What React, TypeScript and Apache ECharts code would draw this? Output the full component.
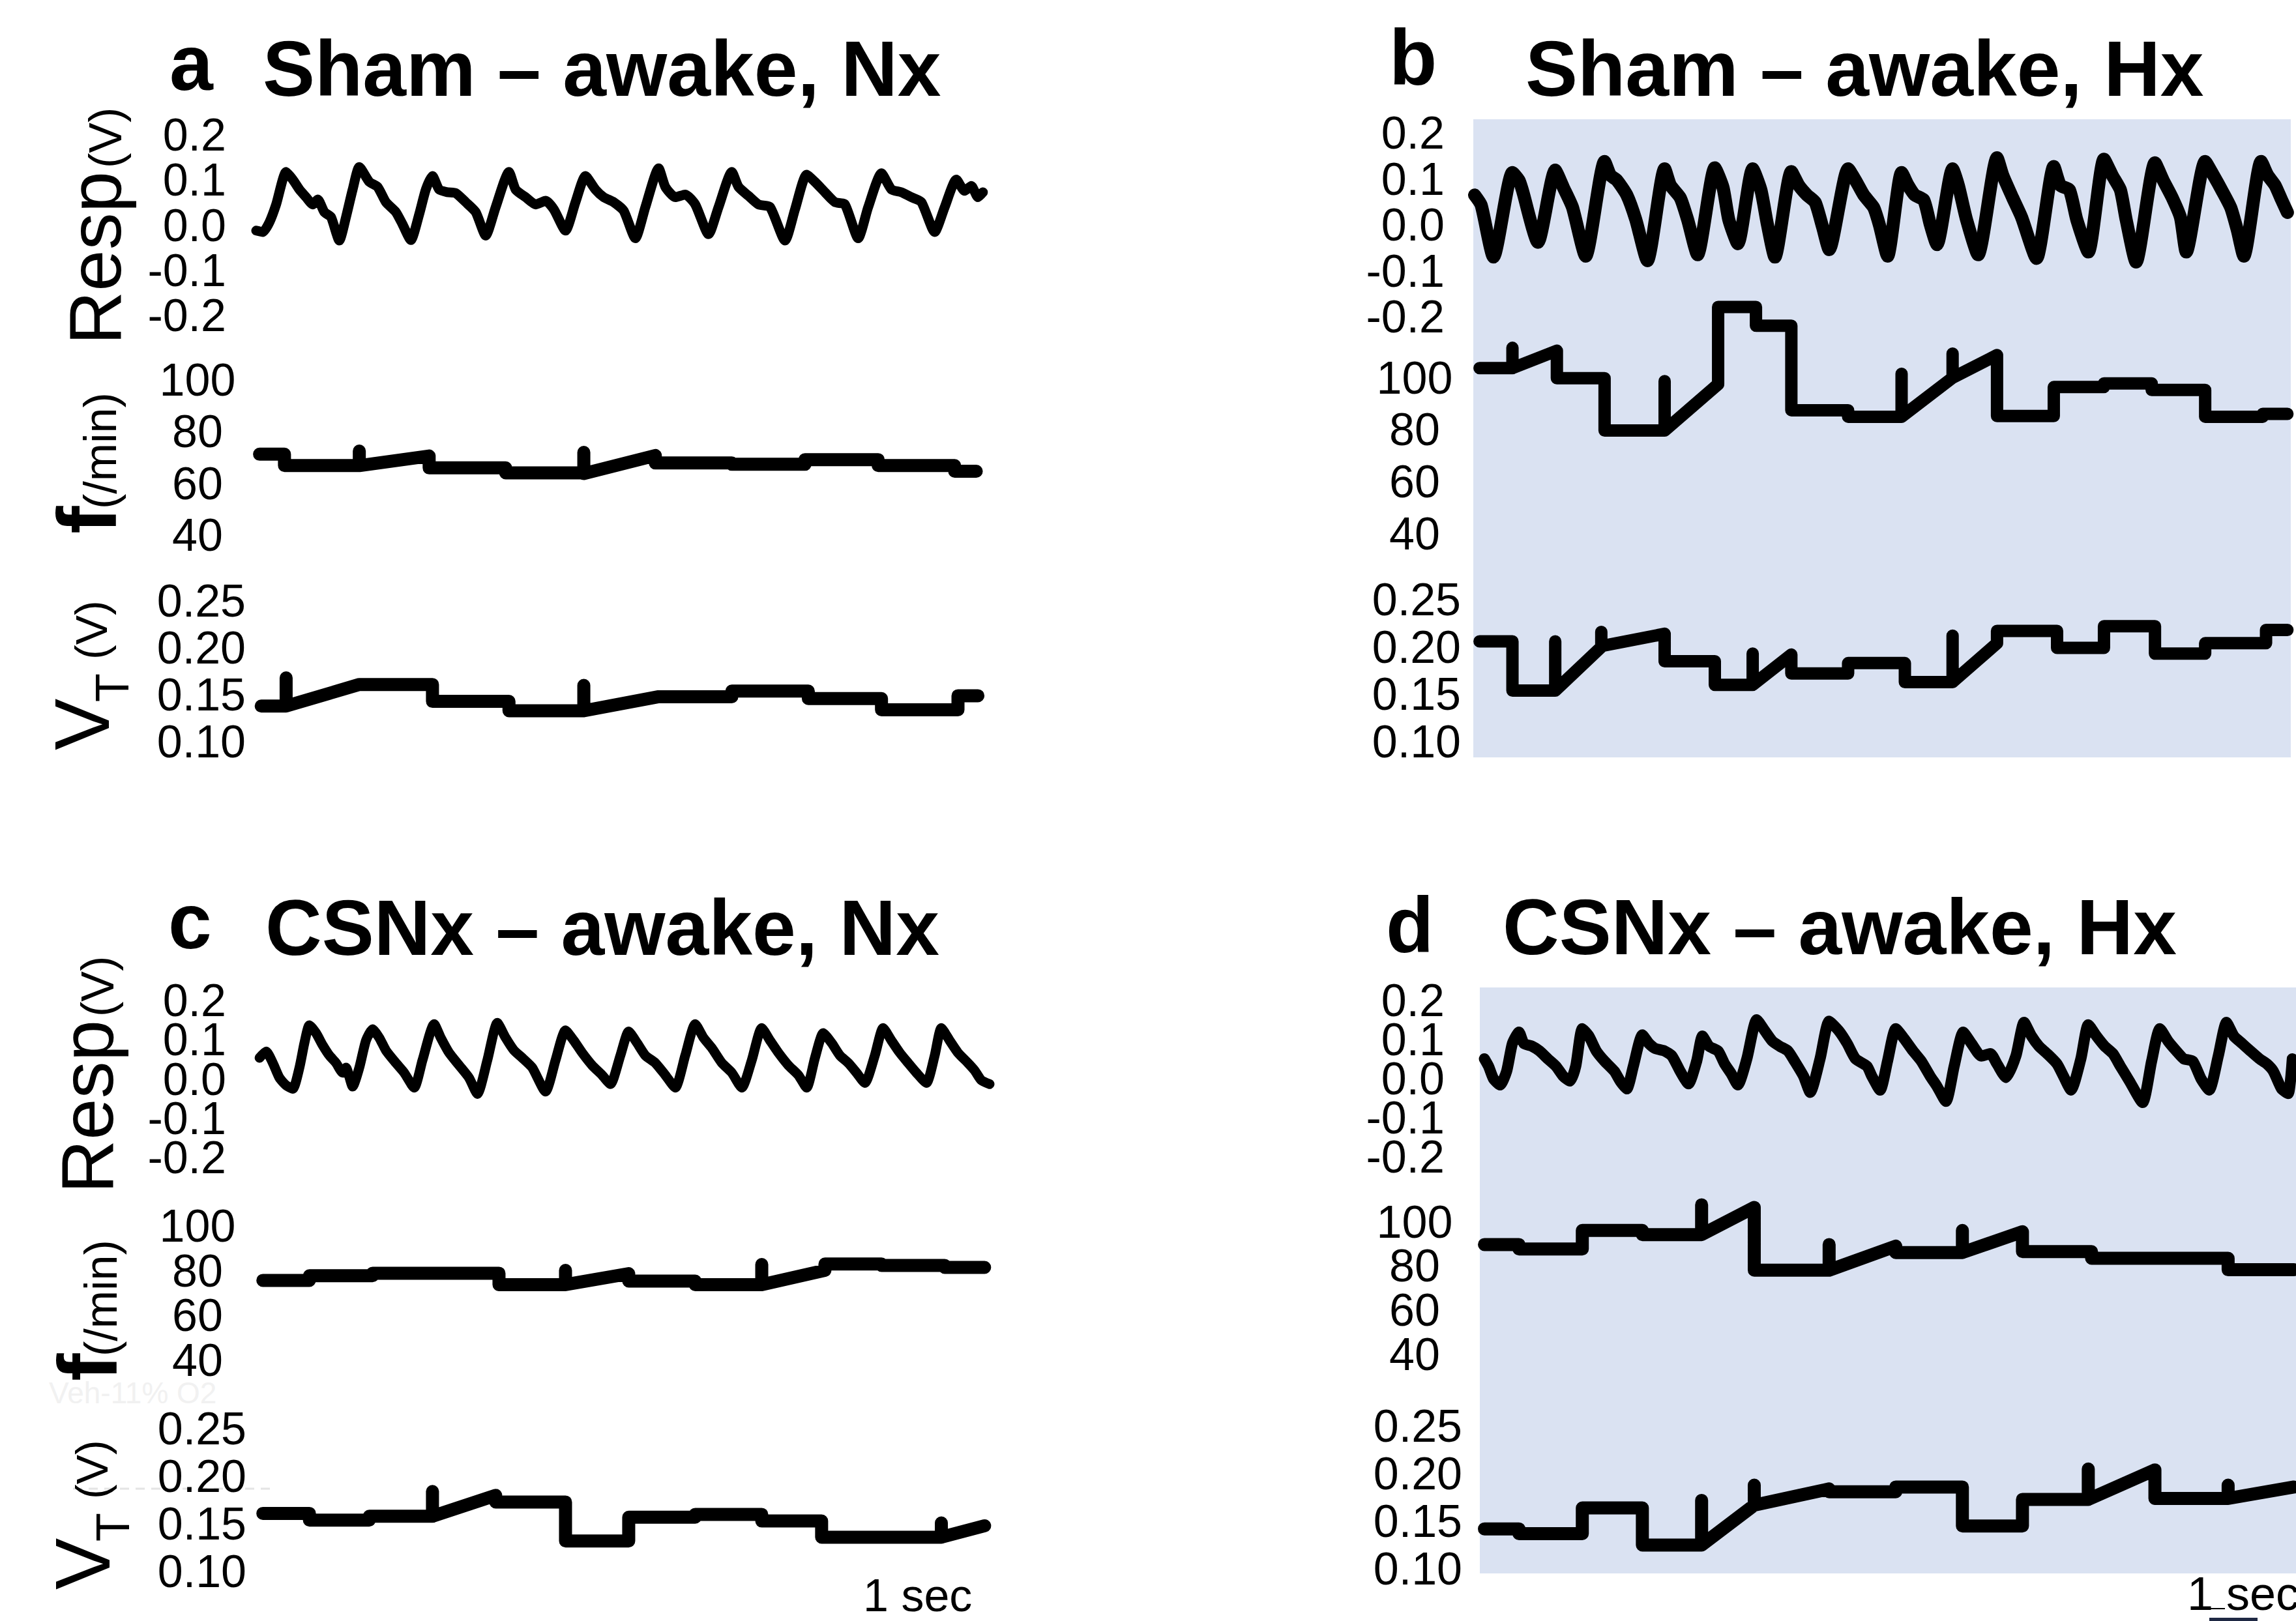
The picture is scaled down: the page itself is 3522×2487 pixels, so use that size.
import React, { useEffect, useRef } from "react";
import * as echarts from "echarts";

type Pt = [number, number];

// ---------- Data (time in s, Resp in V, f in /min, VT in V) ----------
// Panel a: Sham – awake, Nx
const respA: Pt[] = [[0,-0.012],[0.08,-0.015],[0.16,0.007],[0.24,0.046],[0.36,0.118],[0.44,0.101],[0.52,0.079],[0.60,0.062],[0.68,0.046],[0.74,0.057],[0.82,0.029],[0.90,0.018],[1.00,-0.034],[1.08,0.018],[1.16,0.079],[1.24,0.129],[1.36,0.096],[1.46,0.085],[1.56,0.051],[1.68,0.029],[1.76,0.002],[1.86,-0.033],[1.96,0.024],[2.04,0.079],[2.12,0.109],[2.20,0.079],[2.30,0.073],[2.40,0.071],[2.52,0.051],[2.64,0.029],[2.76,-0.023],[2.88,0.040],[3.04,0.118],[3.12,0.079],[3.24,0.062],[3.36,0.046],[3.48,0.054],[3.58,0.035],[3.72,-0.012],[3.84,0.051],[3.96,0.109],[4.08,0.079],[4.18,0.062],[4.30,0.051],[4.42,0.032],[4.56,-0.029],[4.68,0.040],[4.84,0.126],[4.92,0.085],[5.04,0.062],[5.16,0.068],[5.28,0.046],[5.44,-0.020],[5.56,0.040],[5.72,0.118],[5.80,0.085],[5.92,0.065],[6.04,0.046],[6.18,0.040],[6.36,-0.034],[6.48,0.035],[6.62,0.112],[6.72,0.096],[6.84,0.073],[6.96,0.051],[7.08,0.046],[7.24,-0.029],[7.36,0.040],[7.52,0.115],[7.64,0.079],[7.76,0.073],[7.88,0.062],[8.00,0.051],[8.16,-0.015],[8.28,0.040],[8.42,0.101],[8.52,0.076],[8.60,0.087],[8.68,0.062],[8.74,0.073]];
const freqA: Pt[] = [[0.04,71.3],[0.34,71.3],[0.34,66.9],[1.24,66.9],[1.24,72.5],[1.24,66.9],[2.08,70.6],[2.08,66.0],[3.00,66.0],[3.00,64.1],[3.94,64.1],[3.94,72.0],[3.94,63.8],[4.80,70.8],[4.80,67.9],[5.72,67.9],[5.72,67.4],[6.60,67.4],[6.60,69.2],[7.48,69.2],[7.48,66.9],[8.40,66.9],[8.40,64.7],[8.66,64.7]];
const vtA: Pt[] = [[0.06,0.138],[0.36,0.138],[0.36,0.168],[0.36,0.138],[1.24,0.161],[2.12,0.161],[2.12,0.143],[3.04,0.143],[3.04,0.133],[3.94,0.133],[3.94,0.160],[3.94,0.133],[4.84,0.148],[5.72,0.148],[5.72,0.154],[6.64,0.154],[6.64,0.146],[7.52,0.146],[7.52,0.134],[8.44,0.134],[8.44,0.149],[8.68,0.149]];

// Panel b: Sham – awake, Hx
const respB: Pt[] = [[0,0.065],[0.08,0.043],[0.23,-0.070],[0.46,0.114],[0.54,0.097],[0.58,0.076],[0.77,-0.038],[0.98,0.119],[1.08,0.081],[1.19,0.038],[1.35,-0.068],[1.58,0.138],[1.65,0.108],[1.73,0.097],[1.85,0.065],[1.96,0.011],[2.10,-0.078],[2.31,0.122],[2.38,0.086],[2.50,0.059],[2.59,0.011],[2.71,-0.065],[2.92,0.124],[3.02,0.081],[3.09,0.011],[3.20,-0.041],[3.38,0.122],[3.48,0.076],[3.56,0.0],[3.65,-0.070],[3.85,0.116],[3.94,0.086],[4.04,0.065],[4.14,0.049],[4.23,-0.005],[4.31,-0.054],[4.54,0.122],[4.63,0.097],[4.73,0.065],[4.85,0.038],[4.92,0.0],[5.02,-0.068],[5.19,0.114],[5.27,0.086],[5.35,0.065],[5.46,0.054],[5.54,0.0],[5.62,-0.043],[5.81,0.122],[5.88,0.086],[5.98,0.011],[6.12,-0.065],[6.35,0.146],[6.42,0.108],[6.54,0.059],[6.65,0.016],[6.83,-0.073],[7.04,0.127],[7.12,0.086],[7.23,0.076],[7.32,0.011],[7.46,-0.059],[7.65,0.143],[7.75,0.108],[7.85,0.076],[7.92,0.011],[8.04,-0.081],[8.27,0.135],[8.37,0.097],[8.48,0.059],[8.58,0.016],[8.65,-0.059],[8.88,0.138],[8.98,0.108],[9.08,0.076],[9.19,0.038],[9.27,-0.011],[9.35,-0.068],[9.56,0.138],[9.64,0.108],[9.73,0.086],[9.81,0.054],[9.88,0.027]];
const freqB: Pt[] = [[0.06,103.7],[0.46,103.7],[0.46,111.5],[0.46,103.7],[1.00,110.4],[1.00,99.8],[1.58,99.8],[1.58,79.7],[2.31,79.7],[2.31,98.7],[2.31,79.7],[2.96,97.5],[2.96,127.2],[3.42,127.2],[3.42,120.0],[3.85,120.0],[3.85,87.5],[4.54,87.5],[4.54,85.0],[5.19,85.0],[5.19,101.5],[5.19,85.0],[5.81,100.0],[5.81,109.3],[5.81,100.0],[6.35,108.7],[6.35,85.3],[7.04,85.3],[7.04,96.4],[7.65,96.4],[7.65,97.8],[8.23,97.8],[8.23,95.3],[8.88,95.3],[8.88,85.0],[9.58,85.0],[9.58,86.1],[9.88,86.1]];
const vtB: Pt[] = [[0.06,0.206],[0.46,0.206],[0.46,0.154],[0.98,0.154],[0.98,0.206],[0.98,0.154],[1.54,0.200],[1.54,0.216],[1.54,0.201],[2.31,0.214],[2.31,0.185],[2.92,0.185],[2.92,0.160],[3.38,0.160],[3.38,0.193],[3.38,0.160],[3.85,0.192],[3.85,0.172],[4.54,0.172],[4.54,0.183],[5.23,0.183],[5.23,0.163],[5.81,0.163],[5.81,0.212],[5.81,0.163],[6.35,0.204],[6.35,0.217],[7.08,0.217],[7.08,0.199],[7.65,0.199],[7.65,0.222],[8.27,0.222],[8.27,0.193],[8.88,0.193],[8.88,0.204],[9.62,0.204],[9.62,0.218],[9.88,0.218]];

// Panel c: CSNx – awake, Nx
const respC: Pt[] = [[0.04,0.054],[0.12,0.070],[0.20,0.041],[0.28,0.003],[0.36,-0.016],[0.44,-0.025],[0.52,0.029],[0.58,0.092],[0.64,0.137],[0.72,0.117],[0.80,0.086],[0.88,0.060],[0.96,0.041],[1.04,0.016],[1.08,0.029],[1.16,-0.019],[1.24,0.029],[1.32,0.098],[1.40,0.127],[1.48,0.105],[1.56,0.073],[1.68,0.041],[1.78,0.016],[1.90,-0.022],[2.00,0.048],[2.14,0.140],[2.22,0.105],[2.32,0.067],[2.44,0.035],[2.56,0.003],[2.66,-0.038],[2.78,0.048],[2.90,0.143],[3.00,0.105],[3.10,0.073],[3.20,0.054],[3.32,0.029],[3.48,-0.032],[3.60,0.048],[3.72,0.124],[3.82,0.098],[3.92,0.067],[4.04,0.035],[4.16,0.010],[4.26,-0.013],[4.38,0.060],[4.48,0.121],[4.58,0.092],[4.68,0.060],[4.80,0.041],[4.92,0.010],[5.04,-0.022],[5.16,0.060],[5.28,0.140],[5.38,0.105],[5.48,0.079],[5.60,0.041],[5.72,0.016],[5.84,-0.022],[5.96,0.048],[6.08,0.130],[6.18,0.098],[6.28,0.067],[6.40,0.035],[6.52,0.010],[6.62,-0.022],[6.72,0.054],[6.82,0.117],[6.92,0.092],[7.02,0.060],[7.12,0.041],[7.22,0.016],[7.32,-0.010],[7.44,0.060],[7.54,0.130],[7.64,0.098],[7.74,0.067],[7.84,0.041],[7.94,0.016],[8.06,-0.010],[8.16,0.060],[8.24,0.130],[8.34,0.098],[8.44,0.067],[8.56,0.041],[8.64,0.022],[8.72,-0.003],[8.82,-0.013]];
const freqC: Pt[] = [[0.08,75.7],[0.64,75.7],[0.64,77.8],[1.40,77.8],[1.40,78.9],[2.92,78.9],[2.92,73.8],[3.72,73.8],[3.72,80.2],[3.72,73.8],[4.48,78.7],[4.48,75.4],[5.28,75.4],[5.28,73.8],[6.08,73.8],[6.08,82.8],[6.08,73.8],[6.84,80.2],[6.84,83.0],[7.52,83.0],[7.52,82.4],[8.28,82.4],[8.28,81.5],[8.76,81.5]];
const vtC: Pt[] = [[0.08,0.161],[0.64,0.161],[0.64,0.154],[1.36,0.154],[1.36,0.158],[2.12,0.158],[2.12,0.184],[2.12,0.158],[2.88,0.180],[2.88,0.173],[3.72,0.173],[3.72,0.132],[4.48,0.132],[4.48,0.157],[5.28,0.157],[5.28,0.160],[6.08,0.160],[6.08,0.153],[6.80,0.153],[6.80,0.136],[8.24,0.136],[8.24,0.151],[8.24,0.136],[8.76,0.148]];

// Panel d: CSNx – awake, Hx
const respD: Pt[] = [[0.04,0.051],[0.09,0.032],[0.15,0.0],[0.23,-0.016],[0.31,0.019],[0.38,0.090],[0.46,0.119],[0.52,0.090],[0.62,0.083],[0.71,0.071],[0.81,0.051],[0.91,0.032],[1.00,0.006],[1.08,-0.006],[1.15,0.032],[1.23,0.128],[1.31,0.109],[1.40,0.071],[1.50,0.045],[1.62,0.019],[1.69,-0.006],[1.77,-0.026],[1.85,0.032],[1.96,0.112],[2.04,0.090],[2.12,0.077],[2.23,0.071],[2.32,0.058],[2.42,0.019],[2.52,-0.013],[2.62,0.045],[2.69,0.109],[2.77,0.083],[2.88,0.071],[2.96,0.038],[3.04,0.013],[3.12,-0.016],[3.23,0.051],[3.35,0.151],[3.45,0.122],[3.54,0.096],[3.63,0.083],[3.73,0.071],[3.81,0.045],[3.92,0.006],[4.00,-0.035],[4.12,0.051],[4.23,0.147],[4.35,0.122],[4.45,0.090],[4.55,0.051],[4.69,0.032],[4.75,0.006],[4.85,-0.029],[4.94,0.045],[5.04,0.128],[5.14,0.103],[5.25,0.071],[5.35,0.045],[5.46,0.006],[5.54,-0.019],[5.65,-0.058],[5.75,0.032],[5.86,0.119],[5.96,0.090],[6.08,0.058],[6.19,0.064],[6.27,0.038],[6.38,0.003],[6.50,0.058],[6.60,0.144],[6.69,0.109],[6.78,0.083],[6.88,0.064],[7.00,0.038],[7.08,0.006],[7.17,-0.029],[7.29,0.051],[7.38,0.138],[7.48,0.109],[7.58,0.083],[7.68,0.064],[7.77,0.032],[7.88,-0.006],[8.04,-0.061],[8.15,0.045],[8.25,0.128],[8.35,0.096],[8.45,0.071],[8.54,0.051],[8.65,0.045],[8.75,0.0],[8.85,-0.029],[8.96,0.058],[9.06,0.144],[9.15,0.109],[9.25,0.090],[9.35,0.071],[9.46,0.051],[9.55,0.038],[9.63,0.019],[9.73,-0.026],[9.81,-0.038],[9.86,0.051]];
const freqD: Pt[] = [[0.04,89.7],[0.46,89.7],[0.46,87.7],[1.23,87.7],[1.23,96.1],[1.96,96.1],[1.96,94.2],[2.68,94.2],[2.68,107.7],[2.68,94.2],[3.32,106.5],[3.32,78.1],[4.23,78.1],[4.23,89.7],[4.23,78.1],[5.04,89.0],[5.04,86.1],[5.85,86.1],[5.85,96.1],[5.85,86.1],[6.58,95.5],[6.58,86.5],[7.42,86.5],[7.42,83.5],[9.08,83.5],[9.08,78.3],[9.88,78.3]];
const vtD: Pt[] = [[0.04,0.142],[0.46,0.142],[0.46,0.137],[1.23,0.137],[1.23,0.164],[1.96,0.164],[1.96,0.125],[2.68,0.125],[2.68,0.172],[2.68,0.125],[3.32,0.167],[3.32,0.188],[3.32,0.167],[4.23,0.184],[4.23,0.181],[5.04,0.181],[5.04,0.186],[5.85,0.186],[5.85,0.145],[6.58,0.145],[6.58,0.173],[7.38,0.173],[7.38,0.205],[7.38,0.173],[8.19,0.204],[8.19,0.174],[9.08,0.174],[9.08,0.188],[9.08,0.174],[9.88,0.186]];

// Axis tick definitions and tick values
const respTicks = { min: -0.2, max: 0.2, interval: 0.1, decimals: 1 };
const freqTicks = { min: 40, max: 100, interval: 20, decimals: 0 };
const vtTicks = { min: 0.1, max: 0.25, interval: 0.05, decimals: 2 };
const respTickValues = [-0.2, -0.1, 0, 0.1, 0.2];
const freqTickValues = [40, 60, 80, 100];
const vtTickValues = [0.1, 0.15, 0.2, 0.25];

const panelLetters = ["a", "b", "c", "d"];
const panelTitles = ["Sham – awake, Nx", "Sham – awake, Hx", "CSNx – awake, Nx", "CSNx – awake, Hx"];
const panelDurations = [8.74, 9.88, 8.82, 9.88];
const scaleLabel = "1 sec";
const ghostLabel = "Veh-11% O2";

const dataSets: Pt[][][] = [
  [respA, freqA, vtA],
  [respB, freqB, vtB],
  [respC, freqC, vtC],
  [respD, freqD, vtD],
];

// ---------- Layout (pixels) ----------
const FONT = '"Liberation Sans", Arial, Helvetica, sans-serif';
const layout = [
  { left: 393, pps: 127.55, rows: [
    { top: 207, height: 277, margin: 46, lw: 15 },
    { top: 583, height: 238, margin: 90, lw: 20 },
    { top: 922, height: 216, margin: 16, lw: 20 } ],
    letter: [260, 138], title: [403, 147] },
  { left: 2262, pps: 126.2, rows: [
    { top: 204, height: 282, margin: 46, lw: 20 },
    { top: 579.5, height: 239.5, margin: 92, lw: 19 },
    { top: 920, height: 218, margin: 21, lw: 19 } ],
    letter: [2131, 130], title: [2340, 147] },
  { left: 393, pps: 127.55, rows: [
    { top: 1535, height: 241, margin: 46, lw: 15 },
    { top: 1881, height: 206, margin: 90, lw: 20 },
    { top: 2192, height: 219, margin: 15, lw: 20 } ],
    letter: [258, 1455], title: [407, 1465] },
  { left: 2272, pps: 126.2, rows: [
    { top: 1535, height: 240, margin: 56, lw: 17 },
    { top: 1874.5, height: 203.5, margin: 102, lw: 20 },
    { top: 2188, height: 219, margin: 29, lw: 20 } ],
    letter: [2126, 1461], title: [2305, 1464] },
];

const fmt = (v: number, d: number) => (Math.abs(v) < 1e-9 ? 0 : v).toFixed(d);

// text whose baseline sits at (x, baseline)
const text = (t: string, x: number, baseline: number, fs: number, o: any = {}) => ({
  type: "text",
  x,
  y: baseline - 0.347 * fs,
  z: 10,
  silent: true,
  style: {
    text: t,
    fontSize: fs,
    fontFamily: FONT,
    fontWeight: o.bold ? "bold" : "normal",
    fill: o.fill || "#000",
    align: "left",
    verticalAlign: "middle",
  },
});

// rotated (bottom-to-top) text: baseline at screen x = bx, starting at y = sy
const vtext = (t: string, bx: number, sy: number, fs: number, bold = false) => ({
  type: "text",
  x: bx - 0.347 * fs,
  y: sy,
  rotation: Math.PI / 2,
  z: 10,
  silent: true,
  style: {
    text: t,
    fontSize: fs,
    fontFamily: FONT,
    fontWeight: bold ? "bold" : "normal",
    fill: "#000",
    align: "left",
    verticalAlign: "middle",
  },
});

const ticks = [respTicks, freqTicks, vtTicks];
const tickValues = [respTickValues, freqTickValues, vtTickValues];

function buildOption() {
  const grid: any[] = [];
  const xAxis: any[] = [];
  const yAxis: any[] = [];
  const series: any[] = [];

  layout.forEach((p, pi) => {
    const T = panelDurations[pi];
    p.rows.forEach((r, ri) => {
      const idx = grid.length;
      const tk = ticks[ri];
      grid.push({ left: p.left, top: r.top, width: T * p.pps, height: r.height, containLabel: false, outerBoundsMode: "none" });
      xAxis.push({ type: "value", gridIndex: idx, min: 0, max: T, show: false });
      yAxis.push({
        type: "value",
        gridIndex: idx,
        min: tk.min,
        max: tk.max,
        interval: tk.interval,
        axisLine: { show: false },
        axisTick: { show: false },
        splitLine: { show: false },
        axisLabel: { show: false },
      });
      series.push({
        type: "line",
        xAxisIndex: idx,
        yAxisIndex: idx,
        data: dataSets[pi][ri],
        showSymbol: false,
        symbol: "none",
        smooth: ri === 0 ? 0.2 : false,
        clip: false,
        silent: true,
        lineStyle: { color: "#000", width: r.lw, cap: "round", join: "round" },
      });
    });
  });

  return { animation: false, backgroundColor: "#ffffff", grid, xAxis, yAxis, series };
}

function buildGraphic(chart: echarts.ECharts) {
  const graphic: any[] = [
    { type: "rect", z: 0, silent: true, shape: { x: 2260, y: 183, width: 1254, height: 979 }, style: { fill: "#DAE2F2" } },
    { type: "rect", z: 0, silent: true, shape: { x: 2270, y: 1515, width: 1252, height: 899 }, style: { fill: "#DAE2F2" } },
  ];
  // tick labels placed through each y axis' own scale
  layout.forEach((p, pi) => {
    p.rows.forEach((r, ri) => {
      const idx = pi * 3 + ri;
      tickValues[ri].forEach((v) => {
        const pt = chart.convertToPixel({ gridIndex: idx } as any, [0, v]) as number[];
        graphic.push({
          type: "text",
          x: pt[0] - r.margin,
          y: pt[1],
          z: 10,
          silent: true,
          style: {
            text: fmt(v, ticks[ri].decimals),
            fontSize: 70,
            fontFamily: FONT,
            fill: "#000",
            align: ri === 1 ? "center" : "right",
            verticalAlign: "middle",
          },
        });
      });
    });
    graphic.push(text(panelLetters[pi], p.letter[0], p.letter[1], 120, { bold: true }));
    graphic.push(text(panelTitles[pi], p.title[0], p.title[1], 120, { bold: true }));
  });
  // axis names, panel a
  graphic.push(vtext("Resp", 185, 529, 114));
  graphic.push(vtext("(V)", 186, 258, 70));
  graphic.push(vtext("f", 178, 819, 128, true));
  graphic.push(vtext("(/min)", 178, 781, 70));
  graphic.push(vtext("V", 167, 1151, 119));
  graphic.push(vtext("T", 197, 1077, 72));
  graphic.push(vtext("(V)", 164, 1012, 68));
  // axis names, panel c
  graphic.push(vtext("Resp", 173, 1831, 114));
  graphic.push(vtext("(V)", 174, 1560, 70));
  graphic.push(vtext("f", 179, 2119, 128, true));
  graphic.push(vtext("(/min)", 179, 2081, 70));
  graphic.push(vtext("V", 168, 2439, 119));
  graphic.push(vtext("T", 198, 2365, 72));
  graphic.push(vtext("(V)", 165, 2300, 68));
  // scale labels
  graphic.push(text(scaleLabel, 1324, 2472, 70));
  graphic.push(text(scaleLabel, 3355, 2470, 72));
  graphic.push({ type: "line", z: 10, silent: true, shape: { x1: 3385, y1: 2468, x2: 3413, y2: 2468 }, style: { stroke: "#000", lineWidth: 2 } });
  graphic.push({ type: "rect", z: 10, silent: true, shape: { x: 3389, y: 2482, width: 74, height: 12 }, style: { fill: "#1f2944" } });
  // faint artefacts
  graphic.push(text(ghostLabel, 75, 2153, 46, { fill: "#f1f1f1" }));
  graphic.push({ type: "line", z: 1, silent: true, shape: { x1: 112, y1: 2284, x2: 418, y2: 2284 }, style: { stroke: "#e4e4e4", lineWidth: 3, lineDash: [14, 10] } });
  return graphic;
}

export default function App() {
  const ref = useRef<HTMLDivElement>(null);
  useEffect(() => {
    document.body.style.margin = "0";
    document.body.style.overflow = "hidden";
    const chart = echarts.init(ref.current!, null, { renderer: "svg" });
    chart.setOption(buildOption() as any);
    chart.setOption({ graphic: buildGraphic(chart) } as any);
    return () => chart.dispose();
  }, []);
  return <div ref={ref} style={{ width: 3522, height: 2487 }} />;
}
